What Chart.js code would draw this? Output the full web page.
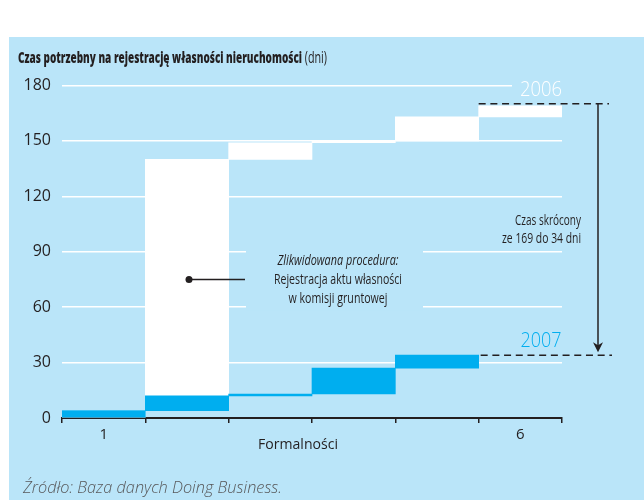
<!DOCTYPE html>
<html>
<head>
<meta charset="utf-8">
<script src="https://cdn.jsdelivr.net/npm/chart.js@4.4.1/dist/chart.umd.min.js"></script>
<style>
  html, body { margin: 0; padding: 0; background: #fff; }
  #wrap { width: 644px; height: 500px; position: relative; }
</style>
</head>
<body>
<div id="wrap"><canvas id="chart"></canvas></div>
<script>
// Procedures (Formalności) and their duration in days
const categories = ['1', '2', '3', '4', '5', '6'];
const tickLabels = ['1', '', '', '', '', '6'];
const days2006 = [4, 136, 9, 1, 13, 6];   // total 169
const days2007 = [4, 8, 1, 14, 7, null];  // total 34
const yTicks = [0, 30, 60, 90, 120, 150, 180];

const BG = 'rgb(186,229,249)';
const BLUE = '#00aeef';
const DARK = '#231f20';

// waterfall: each procedure starts where the previous one ended
function toRanges(days) {
    let sum = 0;
    return days.map(d => {
        if (d == null) return null;
        const r = [sum, sum + d];
        sum += d;
        return r;
    });
}
const total = days => days.reduce((a, b) => a + (b || 0), 0);

// draw text squeezed to a given width (the original uses a condensed face)
function fitText(ctx, txt, x, y, font, color, align, w) {
    ctx.save();
    ctx.font = font;
    ctx.fillStyle = color;
    ctx.textBaseline = 'alphabetic';
    ctx.textAlign = 'left';
    const m = ctx.measureText(txt).width;
    const width = w || m;
    const s = width / m;
    let x0 = x;
    if (align === 'center') x0 = x - width / 2;
    if (align === 'right') x0 = x - width;
    ctx.translate(x0, y);
    ctx.scale(s, 1);
    ctx.fillText(txt, 0, 0);
    ctx.restore();
    return x0 + width;
}

const panelPlugin = {
    id: 'panel',
    beforeDraw(chart) {
        const ctx = chart.ctx;
        ctx.save();
        ctx.fillStyle = '#fff';
        ctx.fillRect(0, 0, chart.width, chart.height);
        ctx.fillStyle = BG;
        ctx.fillRect(9, 37, chart.width - 9, chart.height - 37);
        ctx.restore();
    },
    beforeDatasetsDraw(chart) {
        // gaps in the grid behind the labels
        const ctx = chart.ctx, y = chart.scales.y, a = chart.chartArea;
        ctx.save();
        ctx.fillStyle = BG;
        ctx.fillRect(512, y.getPixelForValue(180) - 3, a.right - 512 + 2, 6);
        [60, 90].forEach(v => ctx.fillRect(246, y.getPixelForValue(v) - 3, 423 - 246, 6));
        ctx.restore();
    },
    afterDraw(chart) {
        const ctx = chart.ctx, x = chart.scales.x, y = chart.scales.y;
        const bw = x.width / categories.length;
        const y06 = y.getPixelForValue(total(days2006)) - 2;
        const y07 = y.getPixelForValue(total(days2007));
        const x06 = x.getPixelForValue(5) - bw / 2;
        const x07 = x.getPixelForValue(4) + bw / 2 + 2;
        const arrowX = 598;

        ctx.save();
        ctx.strokeStyle = DARK;
        ctx.lineWidth = 1.5;
        ctx.setLineDash([7, 4.7]);
        ctx.beginPath();
        ctx.moveTo(x06, y06); ctx.lineTo(609, y06);
        ctx.moveTo(x07, y07); ctx.lineTo(612, y07);
        ctx.stroke();
        ctx.setLineDash([]);

        // arrow
        const tip = y07 - 3;
        ctx.beginPath();
        ctx.moveTo(arrowX, y06); ctx.lineTo(arrowX, tip - 6);
        ctx.stroke();
        ctx.fillStyle = DARK;
        ctx.beginPath();
        ctx.moveTo(arrowX, tip);
        ctx.lineTo(arrowX - 5, tip - 10);
        ctx.lineTo(arrowX, tip - 7);
        ctx.lineTo(arrowX + 5, tip - 10);
        ctx.closePath();
        ctx.fill();

        // callout on the removed procedure
        const dotX = x.getPixelForValue(1) + 2;
        const dotY = y.getPixelForValue(75);
        ctx.beginPath();
        ctx.moveTo(dotX, dotY); ctx.lineTo(245, dotY);
        ctx.stroke();
        ctx.beginPath();
        ctx.arc(dotX, dotY, 3.5, 0, Math.PI * 2);
        ctx.fill();
        ctx.restore();

        // texts
        const end = fitText(ctx, 'Czas potrzebny na rejestrację własności nieruchomości', 18, 62.5,
            '800 16px "Open Sans"', DARK, 'left', 284);
        fitText(ctx, ' (dni)', end, 62.5, '500 16px "Open Sans"', DARK, 'left', 25);

        fitText(ctx, '2006', 541, 96, '300 20px "Open Sans"', '#fff', 'center', 42);
        fitText(ctx, '2007', 541, 347, '300 20px "Open Sans"', BLUE, 'center', 41);

        fitText(ctx, 'Czas skrócony', 581, 225, '500 15px "Open Sans"', DARK, 'right', 66);
        fitText(ctx, 'ze 169 do 34 dni', 581, 243, '500 15px "Open Sans"', DARK, 'right', 79);

        fitText(ctx, 'Zlikwidowana procedura:', 338, 265, 'italic 500 15px "Open Sans"', DARK, 'center', 121);
        fitText(ctx, 'Rejestracja aktu własności', 338, 283.5, '500 15px "Open Sans"', DARK, 'center', 128);
        fitText(ctx, 'w komisji gruntowej', 338, 303, '500 15px "Open Sans"', DARK, 'center', 99);

        fitText(ctx, 'Formalności', 298, 449, '15px "Open Sans"', DARK, 'center', 80);
        fitText(ctx, 'Źródło: Baza danych Doing Business.', 23, 492.5,
            'italic 300 17px "Open Sans"', '#58595b', 'left', 259);
    }
};

new Chart(document.getElementById('chart'), {
    type: 'bar',
    data: {
        labels: categories,
        datasets: [
            {
                label: '2007',
                data: toRanges(days2007),
                backgroundColor: BLUE,
                borderWidth: 0,
                grouped: false,
                order: 0,
                barPercentage: 1,
                categoryPercentage: 1
            },
            {
                label: '2006',
                data: toRanges(days2006),
                backgroundColor: '#ffffff',
                borderWidth: 0,
                grouped: false,
                order: 1,
                barPercentage: 1,
                categoryPercentage: 1
            }
        ]
    },
    options: {
        responsive: true,
        maintainAspectRatio: false,
        animation: false,
        layout: { padding: { left: 0, right: 82, top: 85.5, bottom: 0 } },
        plugins: {
            legend: { display: false },
            tooltip: { enabled: false }
        },
        scales: {
            x: {
                grid: {
                    offset: true,
                    drawOnChartArea: false,
                    drawTicks: true,
                    tickLength: 5,
                    color: DARK,
                    lineWidth: 1.5
                },
                border: { display: true, color: DARK, width: 2 },
                ticks: {
                    color: DARK,
                    font: { family: 'Open Sans', size: 15 },
                    padding: 3,
                    maxRotation: 0,
                    autoSkip: false,
                    callback: (v, i) => tickLabels[i]
                },
                afterFit: s => { s.height = 82; }
            },
            y: {
                min: yTicks[0],
                max: yTicks[yTicks.length - 1],
                afterBuildTicks: s => { s.ticks = yTicks.map(v => ({ value: v })); },
                grid: {
                    color: c => c.tick && c.tick.value === 0 ? 'rgba(0,0,0,0)' : '#ffffff',
                    lineWidth: 1.5,
                    drawTicks: false
                },
                border: { display: false },
                ticks: {
                    color: DARK,
                    font: { family: 'Open Sans', size: 16 },
                    padding: 11
                },
                afterFit: s => { s.width = 62; }
            }
        }
    },
    plugins: [panelPlugin]
});
</script>
</body>
</html>
